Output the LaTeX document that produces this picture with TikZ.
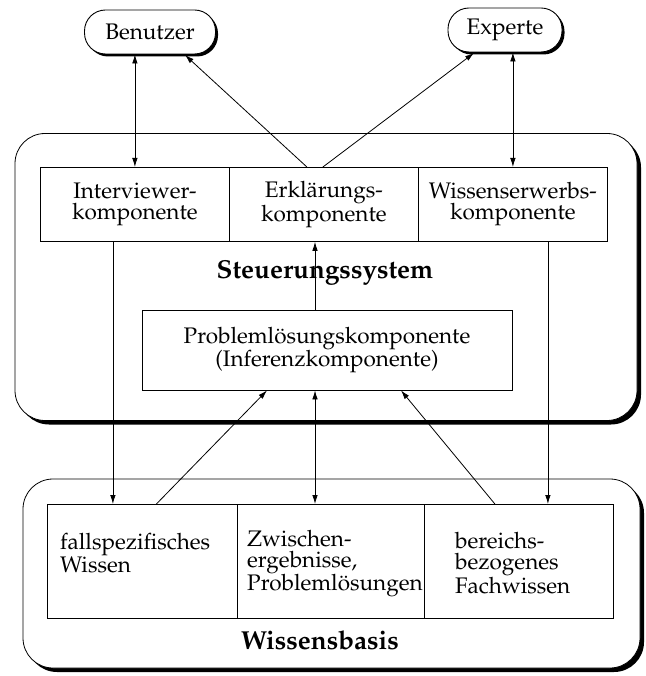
\documentclass[tikz,border=0pt]{standalone}
\usepackage[T1]{fontenc}
\usepackage{mathpazo}
\usetikzlibrary{arrows.meta,calc,shadows}
\begin{document}
\begin{tikzpicture}[x=1pt,y=-1pt,
  every node/.style={inner sep=0pt},
  txt/.style={font=\fontsize{22.5}{21}\selectfont},
  ttl/.style={font=\fontsize{26}{28}\selectfont\bfseries},
  pill/.style={draw, line width=0.9pt, rounded corners=21pt, fill=white, minimum height=44pt, txt,
    drop shadow={shadow xshift=2.5pt, shadow yshift=-2.5pt, fill=black, opacity=1}},
  bigbox/.style={draw, line width=0.8pt, fill=white, rounded corners=30pt, minimum width=622pt,
    drop shadow={shadow xshift=4pt, shadow yshift=-4pt, fill=black, opacity=1}},
  comp/.style={draw, line width=0.8pt, fill=white, minimum width=189pt, minimum height=74pt, align=center, txt},
  kb/.style={draw, line width=0.8pt, fill=white, minimum height=114pt},
  kbtxt/.style={txt, align=left, anchor=west},
  tip/.tip={Latex[length=9pt,width=5.5pt]},
  arr/.style={line width=0.8pt, -tip},
  darr/.style={line width=0.8pt, tip-tip},
]
\useasboundingbox (0,0) rectangle (645,676);

% top actors
\node[pill, minimum width=131pt] (ben) at (150,32) {Benutzer};
\node[pill, minimum width=114pt] (exp) at (505,30) {Experte};

% Steuerungssystem
\node[bigbox, minimum height=287pt] (ss) at (326,277) {};
\node[comp, anchor=north west] (ir) at (40,167) {Interviewer-\\komponente};
\node[comp, anchor=north west] (er) at (229,167) {Erkl\"arungs-\\komponente};
\node[comp, anchor=north west] (we) at (418,167) {Wissenserwerbs-\\komponente};
\node[ttl] (sst) at (325,273) {Steuerungssystem};
\node[draw, line width=0.8pt, fill=white, minimum width=370pt, minimum height=80pt, align=center, txt]
  (pl) at (327,350) {Probleml\"osungskomponente\\(Inferenzkomponente)};

% Wissensbasis
\node[bigbox, minimum width=617pt, minimum height=189pt] (wb) at (331.5,573.5) {};
\node[kb, minimum width=190pt, anchor=north west] (fs) at (47,504) {};
\node[kb, minimum width=187pt, anchor=north west] (zw) at (237,504) {};
\node[kb, minimum width=189pt, anchor=north west] (bf) at (424,504) {};
\node[kbtxt, font=\fontsize{22.5}{18}\selectfont] (fst) at ([xshift=13pt,yshift=8pt]fs.west) {fallspezifisches\\Wissen};
\node[kbtxt] (zwt) at ([xshift=10pt,yshift=-2pt]zw.west) {Zwischen-\\ergebnisse,\\Probleml\"osungen};
\node[kbtxt] (bft) at ([xshift=31pt,yshift=-2pt]bf.west) {bereichs-\\bezogenes\\Fachwissen};
\node[ttl] (wbt) at (320,640) {Wissensbasis};

% connectors
\draw[darr] (ir.north) -- (ir.north |- ben.south);
\draw[darr] (we.north) -- (we.north |- exp.south);
\coordinate (b1) at (185,55);
\coordinate (e1) at (474,53);
\draw[arr] ([xshift=-17pt]er.north) -- (b1);
\draw[arr] ([xshift=-1pt]er.north) -- (e1);
\draw[arr] ([xshift=-12pt]pl.north) -- ([xshift=-12pt]pl.north |- er.south);
\draw[arr] ([xshift=-22pt]ir.south) -- ([xshift=-22pt]ir.south |- fs.north);
\draw[arr] ([xshift=35pt]we.south) -- ([xshift=35pt]we.south |- bf.north);
\draw[darr] ([xshift=-12pt]pl.south) -- ([xshift=-12pt]pl.south |- zw.north);
\draw[arr] ([xshift=14pt]fs.north) -- ([xshift=-60pt]pl.south);
\draw[arr] ([xshift=-24pt]bf.north) -- ([xshift=74pt]pl.south);
\end{tikzpicture}
\end{document}
